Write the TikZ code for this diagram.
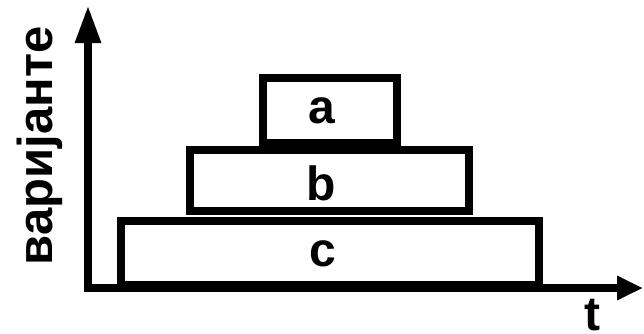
\documentclass[tikz,border=0pt]{standalone}
\usepackage{fontspec}
\setmainfont{Liberation Sans}
\usetikzlibrary{arrows.meta}
\tikzset{
  stage/.style={draw=black, line width=8.5bp, fill=white, inner sep=0pt},
  axis/.style={line width=8.5bp},
  lbl/.style={font=\bfseries\fontsize{48bp}{48bp}\selectfont, inner sep=0pt, anchor=base}
}
\begin{document}
\begin{tikzpicture}[x=1bp,y=-1bp]
  \useasboundingbox (0,0) rectangle (644,333);
  % coordinate axes
  \coordinate (o) at (88,288);
  \coordinate (ytip) at (88,5);
  \coordinate (xtip) at (643,288);
  \draw[axis, line join=miter,
        {Triangle[length=26bp,width=23bp]}-{Triangle[length=38bp,width=24bp]}]
        (xtip) -- (o) -- (ytip);
  % stacked variants
  \node[stage, minimum width=418bp, minimum height=64bp] (boxC) at (330,253) {};
  \node[stage, minimum width=279bp, minimum height=61bp] (boxB) at (329.5,180.5) {};
  \node[stage, minimum width=134bp, minimum height=65bp] (boxA) at (330,110.5) {};
  \node[lbl] (la) at (322,123) {a};
  \node[lbl] (lb) at (321.5,200) {b};
  \node[lbl] (lc) at (322.5,266) {c};
  % axis labels
  \node[lbl] (lt) at (592,330) {t};
  \node[lbl, rotate=90, font=\bfseries\fontsize{49bp}{49bp}\selectfont] (lv) at (52,146) {варијанте};
\end{tikzpicture}
\end{document}
